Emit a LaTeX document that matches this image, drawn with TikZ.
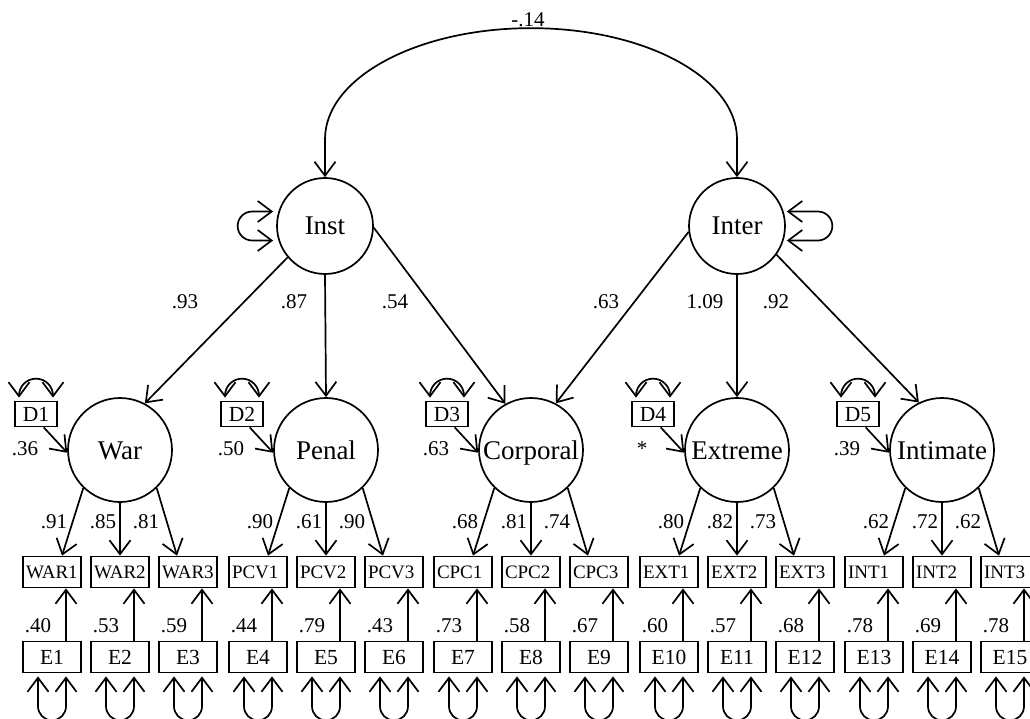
\documentclass[tikz,border=0pt]{standalone}
\usepackage{fontspec}
\setmainfont{Liberation Serif}
\usetikzlibrary{arrows.meta,calc}
\tikzset{
  sem line/.style={draw, line width=1.7pt},
  sem arrow/.style={sem line, -{Straight Barb[length=14pt,width=21pt]}},
  sem both/.style={sem line, {Straight Barb[length=14pt,width=21pt]}-{Straight Barb[length=14pt,width=21pt]}},
  sem latent/.style={circle, draw, line width=1.7pt, minimum size=96pt, inner sep=0pt, text height=20pt, text depth=2pt, font=\fontsize{27}{27}\selectfont},
  sem factor/.style={sem latent, minimum size=104pt},
  sem item/.style={rectangle, draw, line width=1.7pt, minimum width=58pt, minimum height=31pt, inner xsep=3pt, inner ysep=0pt, text width=52pt, text height=13pt, text depth=0pt, align=left, font=\fontsize{19}{19}\selectfont},
  sem error/.style={rectangle, draw, line width=1.7pt, minimum width=58pt, minimum height=31pt, inner sep=0pt, text height=14.5pt, text depth=0pt, font=\fontsize{21.5}{21.5}\selectfont},
  sem dist/.style={sem error, minimum width=42pt, minimum height=25pt},
  sem label/.style={font=\fontsize{21}{21}\selectfont, inner sep=0pt, anchor=base},
}

\begin{document}
\begin{tikzpicture}[x=1pt,y=-1pt]
  \useasboundingbox (0,0) rectangle (1030,719);
  \clip (0,0) rectangle (1030,719);

  % second-order factors and their covariance
  \node[sem latent] (inst) at (325,226) {Inst};
  \node[sem latent] (inter) at (737,226) {Inter};
  \draw[sem both] (inst.north) -- ++(0,-38) arc[start angle=180,end angle=360,x radius=206,y radius=111] -- (inter.north);
  \node[sem label] (lcov) at (528,27) {-.14};
  \draw[sem both] ($(inst.west)+(-3,-14.5)$) -- ++(-21,0) arc[start angle=270,end angle=90,radius=14.5] -- ++(21,0);
  \draw[sem both] ($(inter.east)+(1,-14.5)$) -- ++(31,0) arc[start angle=270,end angle=450,radius=14.5] -- ++(-31,0);

  % first-order factors, indicators and errors
  \foreach \f/\fx/\fname/\code/\dlab/\la/\lb/\lc/\ea/\eb/\ec [count=\i] in {
    war/120/War/WAR/.36/.91/.85/.81/.40/.53/.59,
    penal/326/Penal/PCV/.50/.90/.61/.90/.44/.79/.43,
    corp/531/Corporal/CPC/.63/.68/.81/.74/.73/.58/.67,
    extr/737/Extreme/EXT/*/.80/.82/.73/.60/.57/.68,
    intim/942/Intimate/INT/.39/.62/.72/.62/.78/.69/.78} {
    \node[sem factor] (\f) at (\fx,450) {\fname};
    \node[sem dist] (d\i) at (\fx-84,414) {D\i};
    \node[sem label] (ld\i) at (\fx-95,455) {\dlab};
    \draw[sem arrow] (d\i.-60) -- (\f.183);
    \draw[sem both] ($(d\i.north)+(-17,-3)$) -- ++(0,-2) arc[start angle=180,end angle=360,radius=17] -- ++(0,2);
    \foreach \k/\dx/\ev in {1/-68/\ea,2/0/\eb,3/68/\ec} {
      \pgfmathtruncatemacro{\n}{3*(\i-1)+\k}
      \node[sem item] (\f\k) at (\fx+\dx,572) {\code\k};
      \node[sem error] (e\n) at (\fx+\dx,657) {E\n};
      \node[sem label] (le\n) at (\fx+\dx-14,632) {\ev};
      \draw[sem arrow] ($(e\n.north)+(14,0)$) -- ($(\f\k.south)+(14,0)$);
      \draw[sem both] ($(e\n.south)+(-14,3)$) -- ++(0,30) arc[start angle=180,end angle=0,radius=14] -- ++(0,-30);
    }
    \draw[sem arrow] (\f.-134) -- ($(\f1.north)+(10,0)$);
    \draw[sem arrow] (\f.south) -- (\f2.north);
    \draw[sem arrow] (\f.-46) -- ($(\f3.north)+(-11,0)$);
    \node[sem label] (la\i) at (\fx-66,528) {\la};
    \node[sem label] (lb\i) at (\fx-17,528) {\lb};
    \node[sem label] (lc\i) at (\fx+26,528) {\lc};
  }

  % structural paths
  \draw[sem arrow] (inst.-140) -- (war.62);
  \draw[sem arrow] (inst.south) -- (penal.north);
  \draw[sem arrow] (inst.-2) -- (corp.119);
  \draw[sem arrow] (inter.187) -- (corp.62);
  \draw[sem arrow] (inter.south) -- (extr.north);
  \draw[sem arrow] (inter.-36) -- (intim.116);
  \node[sem label] (lwar) at (185,308) {.93};
  \node[sem label] (lpenal) at (294,308) {.87};
  \node[sem label] (lcorpa) at (395,308) {.54};
  \node[sem label] (lcorpb) at (606,308) {.63};
  \node[sem label] (lextr) at (705,308) {1.09};
  \node[sem label] (lintim) at (776,308) {.92};
\end{tikzpicture}
\end{document}
